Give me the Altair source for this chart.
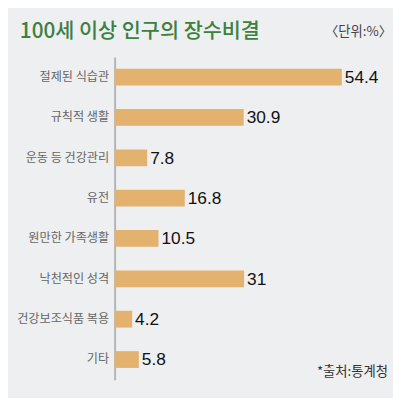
import pandas as pd
import altair as alt

# data
items = ["절제된 식습관", "규칙적 생활", "운동 등 건강관리", "유전",
         "원만한 가족생활", "낙천적인 성격", "건강보조식품 복용", "기타"]
shares = [54.4, 30.9, 7.8, 16.8, 10.5, 31, 4.2, 5.8]

title_text = "100세 이상 인구의 장수비결"
unit_text = "〈단위:%〉"
source_text = "*출처:통계청"

df = pd.DataFrame({"item": items, "value": shares,
                   "label": [str(v) for v in shares]})

KR = "Noto Sans CJK KR"
bar_color = "#e3b26f"

base = alt.Chart(df)

bars = base.mark_bar(color=bar_color, height=17).encode(
    y=alt.Y("item:N", sort=items, title=None,
            axis=alt.Axis(domain=True, domainColor="#b4b6b8", domainWidth=2,
                          ticks=False, labelFont=KR, labelFontSize=12.3,
                          labelColor="#666666", labelPadding=6)),
    x=alt.X("value:Q", scale=alt.Scale(domain=[0, 64]), axis=None),
)

values = base.mark_text(align="left", baseline="middle", dx=3, dy=1,
                        font="Liberation Sans", fontSize=17.5,
                        color="#111111").encode(
    y=alt.Y("item:N", sort=items),
    x="value:Q",
    text="label:N",
)

title = alt.Chart(pd.DataFrame({"t": [title_text]})).mark_text(
    align="left", baseline="middle", font=KR, fontSize=21, fontWeight=500,
    color="#3d8040").encode(x=alt.value(-96), y=alt.value(-25), text="t:N")

unit = alt.Chart(pd.DataFrame({"t": [unit_text]})).mark_text(
    align="right", baseline="middle", font=KR, fontSize=13.5,
    color="#444444").encode(x=alt.value(281), y=alt.value(-25), text="t:N")

source = alt.Chart(pd.DataFrame({"t": [source_text]})).mark_text(
    align="right", baseline="middle", font=KR, fontSize=13.5,
    color="#333333").encode(x=alt.value(277), y=alt.value(319), text="t:N")

chart = alt.layer(bars, values, title, unit, source).properties(
    width=275, height=327,
    background="#eeeff1",
    padding={"left": 108, "top": 47, "right": 7, "bottom": 16},
    autosize=alt.AutoSizeParams(type="none"),
).configure_view(stroke=None)

chart.save("out.html", embed_options={"renderer": "svg", "actions": False})
